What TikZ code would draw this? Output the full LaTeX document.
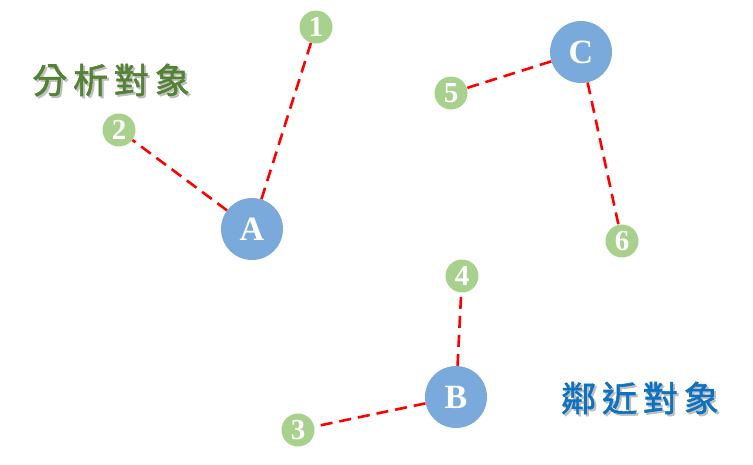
\documentclass[tikz,border=0pt]{standalone}
\usepackage{fontspec}
\setmainfont{Liberation Serif}
\newfontfamily\cjk[FakeBold=1.6]{Noto Sans CJK TC}
\usepackage{xcolor}
\definecolor{bigblue}{HTML}{7AAADB}
\definecolor{smallgreen}{HTML}{A9D18E}
\definecolor{titlegreen}{HTML}{548235}
\definecolor{titleblue}{HTML}{0E72C0}

\begin{document}
\begin{tikzpicture}[x=1pt,y=-1pt,
  target/.style={circle,fill=bigblue,minimum size=62pt,inner sep=0pt,text=white,font=\fontsize{34}{34}\selectfont\bfseries},
  near/.style={circle,fill=smallgreen,minimum size=33pt,inner sep=0pt,text=white,font=\fontsize{29}{29}\selectfont\bfseries},
  link/.style={red,line width=2.6pt,dash pattern=on 12pt off 7pt},
  title/.style={font=\cjk\fontsize{35}{35}\selectfont}]
\useasboundingbox (0,0) rectangle (753,464);

% big circles
\node[target] (A) at (252,229) {A};
\node[target] (B) at (456,397) {B};
\node[target] (C) at (581,52) {C};

% small circles
\node[near] (n1) at (316,27) {1};
\node[near] (n2) at (119,130) {2};
\node[near] (n3) at (298,430) {3};
\node[near] (n4) at (462,276) {4};
\node[near] (n5) at (451,93) {5};
\node[near] (n6) at (622,241) {6};

\draw[link] (A)--(n1);
\draw[link] (A)--(n2);
\draw[link] (B)--(n3);
\draw[link] (B)--(n4);
\draw[link] (C)--(n5);
\draw[link] (C)--(n6);

% titles
\node[title,text=black!25] at (113,82) {分\,析\,對\,象};
\node[title,text=titlegreen] (left) at (111,80) {分\,析\,對\,象};
\node[title,text=black!25] at (642,400) {鄰\,近\,對\,象};
\node[title,text=titleblue] (right) at (640,398) {鄰\,近\,對\,象};
\end{tikzpicture}
\end{document}
